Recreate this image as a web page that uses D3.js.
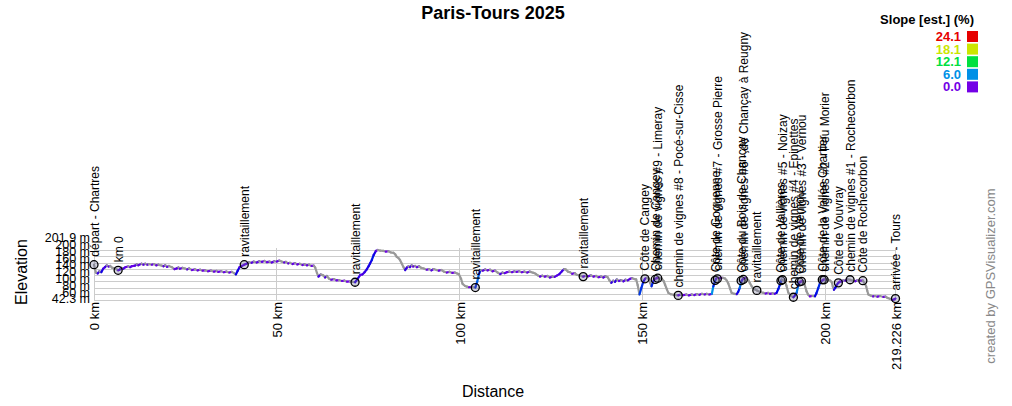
<!DOCTYPE html>
<html><head><meta charset="utf-8">
<script src="https://cdn.jsdelivr.net/npm/d3@7"></script>
<style>
body{margin:0;background:#fff;}
svg text{font-family:"Liberation Sans",Arial,sans-serif;}
</style>
</head><body>
<svg id="chart" width="1012" height="406"></svg>
<script>
// ---- data ----
const profileKm = [
0,0.5,1.0,1.5,2.0,2.5,3.0,3.5,4.0,4.4,
5.0,5.7,6.2,6.6,7.0,7.5,8.0,8.6,9.4,9.9,
10.3,11.2,11.7,12.1,13.0,13.5,14.0,14.6,15.0,15.8,
16.4,17.0,17.6,18.5,19.0,19.5,20.0,20.5,21.3,22.0,
22.6,23.1,23.5,24.2,24.9,25.5,26.0,26.8,27.6,28.3,
29.0,29.7,30.4,31.2,32.0,32.8,33.5,34.0,34.8,35.5,
36.2,37.0,37.7,38.3,38.8,39.3,39.8,40.4,41.1,41.7,
42.4,43.1,43.7,44.5,45.2,45.9,46.6,47.3,48.0,48.6,
49.3,50.0,50.7,51.3,52.0,52.5,53.1,53.6,54.3,55.0,
55.6,56.3,57.0,57.6,58.2,58.8,59.5,60.1,60.5,61.0,
61.4,62.0,62.7,63.2,63.7,64.3,64.9,65.6,66.3,67.0,
67.8,68.5,69.2,70.0,70.7,71.4,72.1,72.8,73.4,74.0,
74.6,75.1,75.5,76.0,76.5,77.1,77.6,78.3,79.1,79.8,
80.5,81.2,81.9,82.4,82.8,83.3,83.7,84.2,84.7,85.1,
85.6,86.0,86.4,86.9,87.3,87.8,88.3,88.9,89.5,90.2,
91.0,91.6,92.3,92.9,93.7,94.3,95.0,95.7,96.5,97.2,
98.0,98.7,99.3,99.8,100.4,100.8,101.5,102.0,102.6,103.3,
104.3,104.8,105.3,105.7,106.3,107.0,107.6,108.3,109.0,109.7,
110.4,111.1,111.7,112.3,112.9,113.6,114.3,115.0,115.6,116.3,
117.0,117.7,118.5,119.2,120.2,120.8,121.4,122.0,122.6,123.3,
124.0,124.7,125.4,126.0,126.7,127.3,128.0,128.6,129.0,129.6,
130.2,130.8,131.5,132.0,132.8,133.8,134.5,135.2,135.9,136.6,
137.3,138.0,138.7,139.3,139.9,140.5,141.0,141.5,142.0,142.5,
143.0,143.6,144.2,144.8,145.4,146.0,146.6,147.2,147.8,148.3,
148.7,149.2,149.7,150.2,150.7,151.2,151.7,152.1,152.5,152.9,
153.3,153.9,154.6,155.3,155.8,156.2,156.7,157.1,157.7,158.5,
159.2,159.8,160.5,161.2,162.0,162.7,163.5,164.2,164.9,165.6,
166.3,167.0,167.6,168.3,169.0,169.4,169.8,170.1,170.7,171.2,
172.0,172.6,173.1,173.5,174.0,174.4,175.1,175.8,176.2,176.6,
177.0,177.4,178.0,178.5,179.0,179.4,179.9,180.3,180.8,181.3,
182.2,183.1,183.7,184.4,184.9,185.6,186.2,186.7,187.2,187.6,
188.1,188.6,189.0,189.4,189.9,190.6,191.3,191.8,192.2,192.6,
193.0,193.5,194.0,194.4,194.9,195.3,195.8,196.5,197.2,197.6,
198.1,198.6,199.1,199.5,200.1,200.8,201.4,201.8,202.1,202.4,
202.8,203.1,203.6,204.0,204.5,205.0,205.5,206.1,206.8,207.5,
208.2,208.8,209.5,210.3,210.8,211.2,211.5,211.8,212.5,213.1,
213.6,214.3,215.0,215.9,216.5,217.0,217.7,218.4,218.9,219.226];
const profileElev = [
155,130,127,134,131,142,147,153,149,151,
145,144,140,137,139,145,142,147,150,147,
150,152,156,153,158,155,158,155,157,155,
157,153,155,152,150,153,148,151,147,141,
143,146,142,145,143,140,143,138,140,137,
139,136,137,134,136,133,135,132,134,131,
133,130,132,128,124,136,147,151,155,158,
163,161,165,162,166,164,167,163,165,162,
166,165,168,165,162,164,159,161,157,160,
156,158,154,156,153,155,151,152,146,128,
117,124,121,114,119,110,107,109,105,106,
103,104,101,102,100,99,110,122,124,131,
140,150,159,170,186,199,201.9,200,199,197,
198,194,193,188,180,176,170,158,146,138,
146,150,147,153,149,151,147,150,145,143,
139,141,137,141,138,136,138,133,130,132,
129,130,127,125,110,94,87,85,83,84,
82,100,125,138,136,140,137,139,134,136,
130,125,130,128,131,133,131,134,132,134,
131,133,130,133,129,126,121,117,120,117,
119,114,117,116,121,125,134,141,140,133,
131,126,128,123,121,117,120,118,121,117,
119,115,117,114,118,115,105,97,104,100,
108,103,106,102,107,105,110,112,109,108,
90,60,80,99,110,113,110,97,86,100,
109,112,113,110,103,91,76,65,61,59,
58,57,60,58,60,57,60,58,61,59,
62,60,62,60,62,86,100,110,113,112,
113,111,104,95,78,65,62,61,68,80,
100,108,112,113,105,96,86,80,76,73,
68,65,63,65,62,64,62,65,78,91,
107,104,101,88,66,56,51,58,66,88,
99,102,102,90,70,60,54,55,54,64,
80,98,104,107,109,107,104,99,85,75,
82,90,97,101,102,106,104,108,107,104,
102,105,104,104,95,86,72,60,56,54,
55,53,55,52,53,49,46,42.3,45,47];

const waypointNames = ["départ - Chartres","km 0","ravitaillement","ravitaillement","ravitaillement","ravitaillement","Côte de Cangey","Chemin de Cangey","chemin de vignes #9 - Limeray","chemin de vignes #8 - Pocé-sur-Cisse","Côte de Goguenne","chemin de vignes #7 - Grosse Pierre","Côte du Bois de Chançay","chemin de vignes #6 - de Chançay à Reugny","ravitaillement","Côte de Vallières","chemin de vignes #5 - Noizay","chemin de vignes #4 - Epinettes","Côte de Vernou","chemin de vignes #3 - Vernou","Côte de la Vallée Chartier","chemin de vignes #2 - Peu Morier","Côte de Vouvray","chemin de vignes #1 - Rochecorbon","Côte de Rochecorbon","arrivée - Tours"];
const waypointKm = [0,6.6,41.1,71.4,104.3,133.8,150.7,153.5,154.2,159.8,169.9,170.5,177.0,177.6,181.3,187.9,188.3,191.3,192.9,193.5,199.2,199.7,203.6,206.8,210.3,219.226];
const waypointElev = [155,137,155,99,82,117,110,108,112,57,105,110,104,108,73,104,107,51,100,102,107,107,97,107,104,47];

const xTickValues = [0,50,100,150,200,219.226];
const xTickLabels = ["0 km","50 km","100 km","150 km","200 km","219.226 km"];
const yTickValues = [42.3,60,80,100,120,140,160,180,200,201.9];
const yTickLabels = ["42.3 m","60 m","80 m","100 m","120 m","140 m","160 m","180 m","200 m","201.9 m"];

const legendValues = [24.1,18.1,12.1,6.0,0.0];
const legendLabels = ["24.1","18.1","12.1","6.0","0.0"];
const legendColors = ["#e60000","#cce600","#00e040","#0090e6","#7300e6"];

// ---- drawing ----
const svg = d3.select("#chart");
const x = d3.scaleLinear().domain([0,219.226]).range([94,895.5]);
const y = d3.scaleLinear().domain([42.3,201.9]).range([300,250]);
const slopeColor = d3.scaleLinear().domain(legendValues.slice().reverse())
  .range(legendColors.slice().reverse()).interpolate(d3.interpolateHsl).clamp(true);
const descentColor = "#999999";

// gridlines
svg.append("g").selectAll("line").data(yTickValues).join("line")
  .attr("x1", x(0)).attr("x2", x(219.226))
  .attr("y1", d=>y(d)).attr("y2", d=>y(d))
  .attr("stroke","#cccccc").attr("stroke-width",1).attr("shape-rendering","crispEdges");
svg.append("g").selectAll("line").data(xTickValues).join("line")
  .attr("x1", d=>x(d)).attr("x2", d=>x(d))
  .attr("y1", y(201.9)-2).attr("y2", y(42.3))
  .attr("stroke","#cccccc").attr("stroke-width",1).attr("shape-rendering","crispEdges");

// y labels, spread apart from the bottom up so they do not collide
const yPos = [];
yTickValues.forEach((v,i)=>{
  let p = y(v) - 1;
  if (i>0) p = Math.min(p, yPos[i-1]-6.8);
  yPos.push(p);
});
svg.append("g").selectAll("text").data(yTickLabels).join("text")
  .attr("x",90).attr("y",(d,i)=>yPos[i]+4.3)
  .attr("text-anchor","end").attr("font-size","12.5px").attr("fill","#000")
  .text(d=>d);

// x labels
svg.append("g").selectAll("text").data(xTickValues).join("text")
  .attr("transform", d=>`translate(${x(d)+5},302) rotate(-90)`)
  .attr("text-anchor","end").attr("font-size","13px").attr("fill","#000")
  .text((d,i)=>xTickLabels[i]);

// profile line coloured by slope
const segs = d3.range(profileKm.length-1).map(i=>{
  const dk = (profileKm[i+1]-profileKm[i])*1000;
  const de = profileElev[i+1]-profileElev[i];
  return {i, slope: dk>0 ? de/dk*100 : 0};
});
svg.append("g").selectAll("line").data(segs).join("line")
  .attr("x1", d=>x(profileKm[d.i])).attr("y1", d=>y(profileElev[d.i]))
  .attr("x2", d=>x(profileKm[d.i+1])).attr("y2", d=>y(profileElev[d.i+1]))
  .attr("stroke", d=> d.slope<0 ? descentColor : slopeColor(d.slope))
  .attr("stroke-width",2.2).attr("stroke-linecap","round");

// waypoints
const wp = svg.append("g");
wp.selectAll("circle").data(waypointNames).join("circle")
  .attr("cx",(d,i)=>x(waypointKm[i])).attr("cy",(d,i)=>y(waypointElev[i]))
  .attr("r",4).attr("fill","rgba(110,110,150,0.3)").attr("stroke","#000").attr("stroke-width",1.3);
wp.selectAll("text").data(waypointNames).join("text")
  .attr("transform",(d,i)=>`translate(${x(waypointKm[i])+4.5},${y(waypointElev[i])-8}) rotate(-90)`)
  .attr("font-size","12px").attr("fill","#000")
  .text(d=>d);

// titles
svg.append("text").attr("x",493).attr("y",19).attr("text-anchor","middle")
  .attr("font-size","18px").attr("font-weight","bold").text("Paris-Tours 2025");
svg.append("text").attr("x",493).attr("y",397).attr("text-anchor","middle")
  .attr("font-size","16px").text("Distance");
svg.append("text").attr("transform","translate(27,272) rotate(-90)").attr("text-anchor","middle")
  .attr("font-size","16px").text("Elevation");
svg.append("text").attr("transform","translate(995,276) rotate(-90)").attr("text-anchor","middle")
  .attr("font-size","13px").attr("fill","#888").text("created by GPSVisualizer.com");

// legend
const lg = svg.append("g");
lg.append("text").attr("x",974).attr("y",24).attr("text-anchor","end")
  .attr("font-size","13px").attr("font-weight","bold").text("Slope [est.] (%)");
lg.selectAll("rect").data(legendValues).join("rect")
  .attr("x",967).attr("y",(d,i)=>31+i*12.6).attr("width",11).attr("height",11)
  .attr("fill",(d,i)=>legendColors[i]);
lg.selectAll("text.v").data(legendLabels).join("text").attr("class","v")
  .attr("x",961).attr("y",(d,i)=>41+i*12.6).attr("text-anchor","end")
  .attr("font-size","13px").attr("font-weight","bold").attr("fill",(d,i)=>legendColors[i])
  .text(d=>d);
</script>
</body></html>
